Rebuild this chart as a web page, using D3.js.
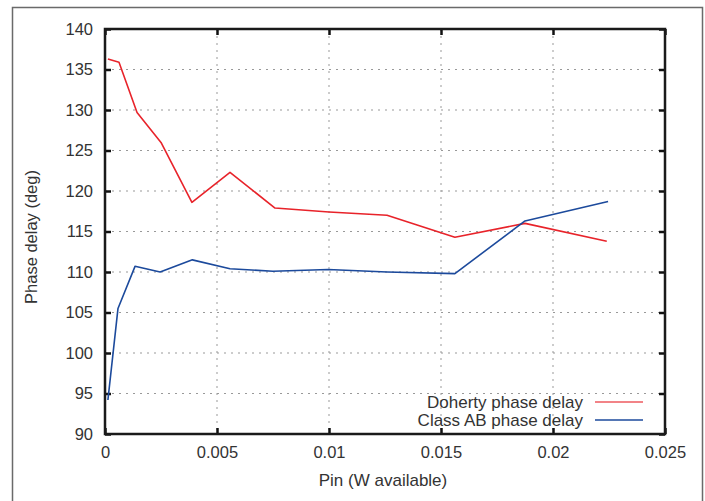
<!DOCTYPE html>
<html>
<head>
<meta charset="utf-8">
<title>Phase delay vs Pin</title>
<style>
    body { margin: 0; background: #fff; }
    svg { display: block; font-family: "Liberation Sans", Arial, sans-serif; }
    .tick text { fill: #333; font-size: 16.5px; }
    .grid line { stroke: #999; stroke-dasharray: 2,5; stroke-width: 1; }
</style>
<script src="https://d3js.org/d3.v7.min.js"></script>
</head>
<body>
<script>
// values
var dohertyX = [0.00013, 0.000625, 0.00143, 0.0025, 0.00388, 0.00558, 0.00759, 0.01, 0.01259, 0.01562, 0.01875, 0.0224];
var dohertyY = [136.3, 135.9, 129.7, 126.0, 118.6, 122.3, 117.9, 117.4, 117.0, 114.3, 116.0, 113.8];
var classAbX = [0.00013, 0.00058, 0.00134, 0.00246, 0.0039, 0.00558, 0.0075, 0.00996, 0.01259, 0.01562, 0.01875, 0.02246];
var classAbY = [94.2, 105.5, 110.7, 110.0, 111.5, 110.4, 110.1, 110.3, 110.0, 109.8, 116.3, 118.7];
var xTicks = [0, 0.005, 0.01, 0.015, 0.02, 0.025];
var yTicks = [90, 95, 100, 105, 110, 115, 120, 125, 130, 135, 140];
var seriesNames = ["Doherty phase delay", "Class AB phase delay"];
var seriesColors = ["#e8232a", "#1c4a9c"];

var width = 705, height = 501;
var pLeft = 105, pRight = 665, pTop = 29, pBottom = 434;

var svg = d3.select("body").append("svg")
    .attr("width", width)
    .attr("height", height);

// outer frame (bottom edge runs off the page)
svg.append("path")
    .attr("d", "M12.5," + (height + 5) + "V7.5H702.5V" + (height + 5))
    .attr("fill", "none")
    .attr("stroke", "#6a6a6a")
    .attr("stroke-width", 1.5);

var x = d3.scaleLinear().domain([0, 0.025]).range([pLeft, pRight]);
var y = d3.scaleLinear().domain([90, 140]).range([pBottom, pTop]);

// grid
var grid = svg.append("g").attr("class", "grid");
grid.selectAll(".gx")
    .data(xTicks.slice(1, -1))
    .enter().append("line")
    .attr("x1", d => x(d)).attr("x2", d => x(d))
    .attr("y1", pTop).attr("y2", pBottom);
grid.selectAll(".gy")
    .data(yTicks.slice(1, -1))
    .enter().append("line")
    .attr("x1", pLeft).attr("x2", pRight)
    .attr("y1", d => y(d)).attr("y2", d => y(d));

// axes with inward ticks
var fmtX = d => d === 0 ? "0" : String(+d.toFixed(3));
svg.append("g")
    .attr("transform", "translate(0," + pBottom + ")")
    .call(d3.axisBottom(x).tickValues(xTicks).tickFormat(fmtX).tickSizeInner(-6).tickSizeOuter(0).tickPadding(12))
    .call(g => g.select(".domain").remove());
svg.append("g")
    .attr("transform", "translate(0," + pTop + ")")
    .call(d3.axisTop(x).tickValues(xTicks).tickSizeInner(-6).tickSizeOuter(0).tickFormat(""))
    .call(g => g.select(".domain").remove());
svg.append("g")
    .attr("transform", "translate(" + pLeft + ",0)")
    .call(d3.axisLeft(y).tickValues(yTicks).tickSizeInner(-6).tickSizeOuter(0).tickPadding(12))
    .call(g => g.select(".domain").remove());
svg.append("g")
    .attr("transform", "translate(" + pRight + ",0)")
    .call(d3.axisRight(y).tickValues(yTicks).tickSizeInner(-6).tickSizeOuter(0).tickFormat(""))
    .call(g => g.select(".domain").remove());
svg.selectAll(".tick line").attr("stroke", "#111").attr("stroke-width", 2.5);

// plot border
svg.append("rect")
    .attr("x", pLeft).attr("y", pTop)
    .attr("width", pRight - pLeft).attr("height", pBottom - pTop)
    .attr("fill", "none")
    .attr("stroke", "#1a1a1a")
    .attr("stroke-width", 2.5);

// lines
var line = d3.line().x(d => x(d[0])).y(d => y(d[1]));
var series = [d3.zip(dohertyX, dohertyY), d3.zip(classAbX, classAbY)];
svg.selectAll(".series")
    .data(series)
    .enter().append("path")
    .attr("d", line)
    .attr("fill", "none")
    .attr("stroke", (d, i) => seriesColors[i])
    .attr("stroke-width", 1.6)
    .attr("stroke-linejoin", "round");

// legend
var legend = svg.append("g");
seriesNames.forEach(function (name, i) {
    var ly = 402 + i * 18;
    legend.append("text")
        .attr("x", 583).attr("y", ly)
        .attr("dy", "0.35em")
        .attr("text-anchor", "end")
        .attr("fill", "#333")
        .attr("font-size", 17)
        .text(name);
    legend.append("line")
        .attr("x1", 595).attr("x2", 643)
        .attr("y1", ly).attr("y2", ly)
        .attr("stroke", seriesColors[i])
        .attr("stroke-opacity", i === 0 ? 0.75 : 1)
        .attr("stroke-width", 1.6);
});

// axis titles
svg.append("text")
    .attr("x", 383).attr("y", 486)
    .attr("text-anchor", "middle")
    .attr("fill", "#333")
    .attr("font-size", 17)
    .text("Pin (W available)");
svg.append("text")
    .attr("transform", "translate(37,237) rotate(-90)")
    .attr("text-anchor", "middle")
    .attr("fill", "#333")
    .attr("font-size", 16.5)
    .text("Phase delay (deg)");
</script>
</body>
</html>
